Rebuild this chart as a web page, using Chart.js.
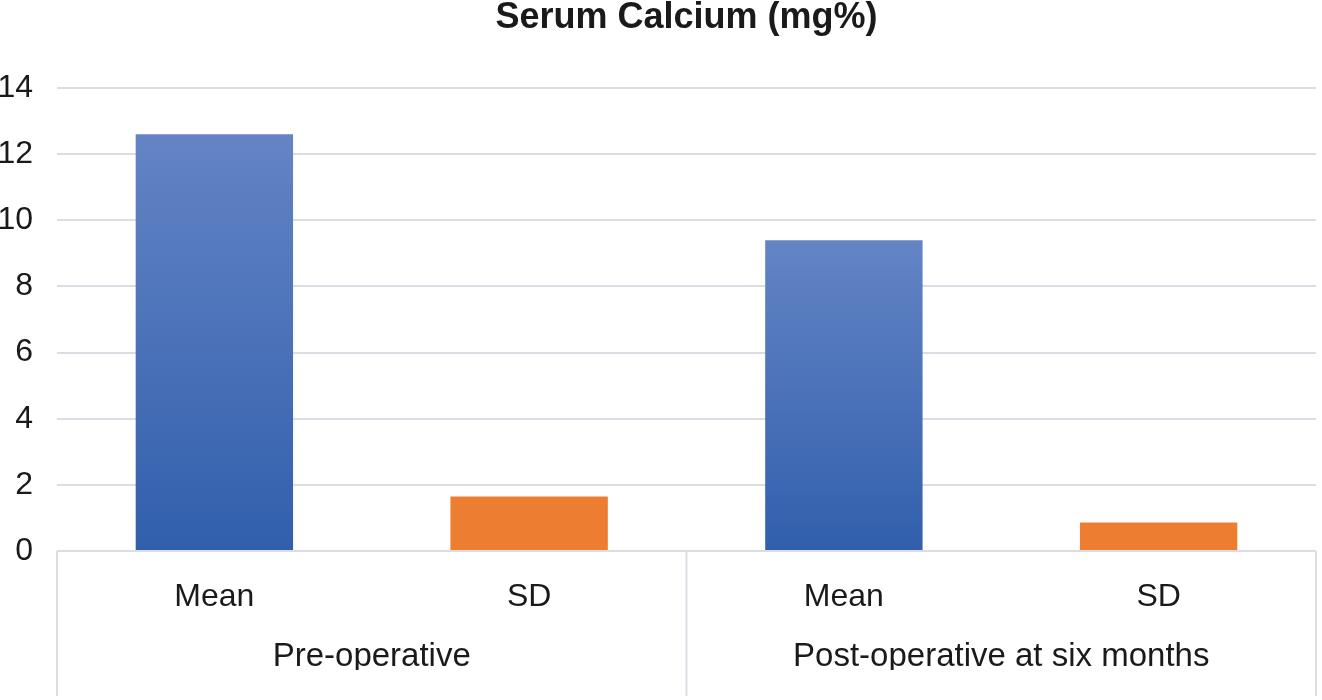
<!DOCTYPE html>
<html>
<head>
<meta charset="utf-8">
<title>Serum Calcium (mg%)</title>
<script src="https://cdn.jsdelivr.net/npm/chart.js@4.4.1/dist/chart.umd.min.js"></script>
<style>
    html, body { margin: 0; padding: 0; background: #ffffff; }
    #wrap { width: 1322px; height: 700px; }
</style>
</head>
<body>
<div id="wrap"><canvas id="calciumChart"></canvas></div>
<script>
// --- 1. DATA ---
const categories = ["Mean", "SD", "Mean", "SD"];
const groups = ["Pre-operative", "Post-operative at six months"];
const values = [12.6, 1.65, 9.4, 0.86];
const yTicks = [0, 2, 4, 6, 8, 10, 12, 14];

const FONT = "'Liberation Sans', Arial, sans-serif";
const gridColor = '#dadde3';

// per-bar vertical gradient for the Mean bars, flat orange for SD
function barColor(ctx) {
    if (ctx.type !== 'data') return '#4472c4';
    if (categories[ctx.dataIndex] === 'SD') return '#ed7d31';
    const chart = ctx.chart;
    if (!chart.chartArea) return '#4472c4';
    const y = chart.scales.y;
    const top = y.getPixelForValue(ctx.raw);
    const bottom = y.getPixelForValue(0);
    const g = chart.ctx.createLinearGradient(0, top, 0, bottom);
    g.addColorStop(0, '#6484c5');
    g.addColorStop(1, '#315fac');
    return g;
}

// --- 2. GROUP SEPARATOR LINES UNDER THE AXIS ---
const groupLines = {
    id: 'groupLines',
    afterDraw(chart) {
        const x = chart.scales.x;
        const c = chart.ctx;
        const top = chart.chartArea.bottom;
        const bottom = chart.height - 4;
        const mid = (x.getPixelForValue(1) + x.getPixelForValue(2)) / 2;
        c.save();
        c.strokeStyle = gridColor;
        c.lineWidth = 2;
        [x.left, mid, x.right].forEach(px => {
            c.beginPath();
            c.moveTo(px, top);
            c.lineTo(px, bottom);
            c.stroke();
        });
        c.restore();
    }
};

// --- 3. CHART ---
new Chart(document.getElementById('calciumChart'), {
    type: 'bar',
    data: {
        labels: categories,
        datasets: [{
            label: 'Serum Calcium',
            data: values,
            backgroundColor: barColor,
            borderWidth: 0,
            barPercentage: 0.5,
            categoryPercentage: 1.0
        }]
    },
    options: {
        responsive: true,
        maintainAspectRatio: false,
        animation: false,
        layout: { padding: { left: 0, right: 6, top: 0, bottom: 30 } },
        plugins: {
            legend: { display: false },
            tooltip: { enabled: false },
            title: {
                display: true,
                text: 'Serum Calcium (mg%)',
                fullSize: false,
                color: '#1a1a1a',
                font: { family: FONT, size: 36, weight: 'bold', lineHeight: 1.0 },
                padding: { top: 0, bottom: 52 }
            }
        },
        scales: {
            y: {
                min: 0,
                max: 14,
                afterBuildTicks: axis => { axis.ticks = yTicks.map(v => ({ value: v })); },
                afterFit: axis => { axis.width = 57; },
                grid: { color: gridColor, lineWidth: 2, drawTicks: false },
                border: { display: false },
                ticks: {
                    color: '#1a1a1a',
                    padding: 24,
                    font: { family: FONT, size: 32 }
                }
            },
            x: {
                afterFit: axis => { axis.height = 59; },
                grid: { display: false, drawTicks: false },
                border: { display: false },
                ticks: {
                    color: '#1a1a1a',
                    padding: 27,
                    maxRotation: 0,
                    font: { family: FONT, size: 32 }
                }
            },
            x2: {
                type: 'category',
                labels: groups,
                position: 'bottom',
                offset: true,
                afterFit: axis => { axis.height = 60; },
                grid: { display: false, drawTicks: false },
                border: { display: false },
                ticks: {
                    color: '#1a1a1a',
                    padding: 27,
                    maxRotation: 0,
                    font: { family: FONT, size: 33 }
                }
            }
        }
    },
    plugins: [groupLines]
});
</script>
</body>
</html>
